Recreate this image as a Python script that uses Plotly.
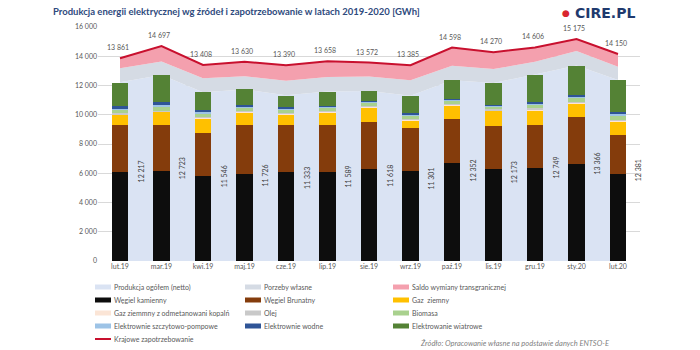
import plotly.graph_objects as go

months = ["lut.19", "mar.19", "kwi.19", "maj.19", "cze.19", "lip.19", "sie.19",
          "wrz.19", "paź.19", "lis.19", "gru.19", "sty.20", "lut.20"]
produkcja = [12217, 12723, 11546, 11726, 11333, 11589, 11618, 11301, 12352, 12173, 12749, 13366, 12381]
potrzeby = [960, 910, 950, 900, 1000, 1000, 1000, 1050, 1000, 950, 880, 1000, 900]
saldo = [684, 1064, 912, 1004, 1057, 1069, 954, 1034, 1246, 1147, 977, 809, 869]
zapotrzebowanie = [13861, 14697, 13408, 13630, 13390, 13658, 13572, 13385, 14598, 14270, 14606, 15175, 14150]

wegiel_kamienny = [6100, 6170, 5810, 5950, 6060, 6060, 6270, 6150, 6680, 6270, 6360, 6630, 5930]
wegiel_brunatny = [3200, 3130, 2920, 3350, 3240, 3240, 3260, 2920, 3010, 2980, 2940, 3190, 2700]
gaz_ziemny = [700, 900, 1030, 870, 750, 870, 950, 570, 930, 1010, 1020, 960, 900]
gaz_odmet = [50, 40, 50, 50, 50, 50, 50, 50, 50, 50, 60, 60, 60]
olej = [50, 40, 50, 50, 50, 50, 50, 50, 50, 50, 60, 60, 60]
biomasa = [250, 300, 250, 220, 220, 220, 250, 220, 250, 220, 280, 300, 280]
pompowe = [70, 80, 50, 80, 70, 50, 50, 50, 50, 50, 50, 80, 100]
wodne = [150, 180, 150, 130, 120, 80, 80, 80, 80, 60, 80, 100, 150]
wiatrowe = [1600, 1900, 1230, 1030, 750, 970, 650, 1200, 1250, 1480, 1900, 1980, 2200]

title = "Produkcja energii elektrycznej wg źródeł i zapotrzebowanie w latach 2019-2020 [GWh]"
source = "Źródło: Opracowanie własne na podstawie danych ENTSO-E"

FONT = "Lato"
TXT = "#595959"

x = list(range(len(months)))

def fmt(v):
    return f"{v:,}".replace(",", " ")

areas = [
    ("Produkcja ogółem (netto)", produkcja, "#dae3f3"),
    ("Porzeby własne", potrzeby, "#d5dbe4"),
    ("Saldo wymiany transgranicznej", saldo, "#f4a0ae"),
]
bars = [
    ("Węgiel kamienny", wegiel_kamienny, "#0d0d0d"),
    ("Węgiel Brunatny", wegiel_brunatny, "#843c0c"),
    ("Gaz  ziemny", gaz_ziemny, "#ffc000"),
    ("Gaz ziemmny z odmetanowani kopalń", gaz_odmet, "#fbe5d6"),
    ("Olej", olej, "#c9c9c9"),
    ("Biomasa", biomasa, "#a9d18e"),
    ("Elektrownie szczytowo-pompowe", pompowe, "#9dc3e6"),
    ("Elektrownie wodne", wodne, "#2f5597"),
    ("Elektrowanie wiatrowe", wiatrowe, "#548235"),
]
line_name = "Krajowe zapotrzebowanie"
line_color = "#c8102e"

fig = go.Figure()
for name, vals, col in areas:
    fig.add_trace(go.Scatter(x=x, y=vals, name=name, mode="lines", stackgroup="a",
                             line=dict(width=0, color=col), fillcolor=col,
                             showlegend=False, hoverinfo="skip"))
fig.add_trace(go.Scatter(x=x, y=zapotrzebowanie, name=line_name, mode="lines",
                         line=dict(color=line_color, width=2),
                         cliponaxis=False, showlegend=False, hoverinfo="skip"))
for name, vals, col in bars:
    fig.add_trace(go.Bar(x=x, y=vals, name=name, marker=dict(color=col, line=dict(width=0)),
                         width=0.4, showlegend=False, hoverinfo="skip",
                         xaxis="x2", yaxis="y2"))

# plot area geometry in pixels
L, R, T, B = 98, 60, 27, 89
W, H = 700, 350
pw, ph = W - L - R, H - T - B

def px(xp):
    return (xp - L) / pw

def py(yp):
    return (H - B - yp) / ph

annotations = []
for i, v in enumerate(produkcja):
    annotations.append(dict(x=i + 0.5, y=v / 2, xref="x", yref="y", text=fmt(v),
                            textangle=-90, showarrow=False,
                            font=dict(size=7, color="#404040", family=FONT)))
for i, v in enumerate(zapotrzebowanie):
    annotations.append(dict(x=i - 0.05, y=v, xref="x", yref="y", text=fmt(v),
                            showarrow=False, yshift=11, yanchor="middle",
                            font=dict(size=7, color=TXT, family=FONT)))

# manual legend (compact rows like the original)
legend_items = [(n, c, "box") for n, _, c in areas]
legend_items += [(n, c, "box") for n, _, c in bars]
legend_items.append((line_name, line_color, "line"))
col_x = [95, 245, 393]
shapes = []
for k, (name, col, kind) in enumerate(legend_items):
    r, c = divmod(k, 3)
    x0 = col_x[c]
    yc = 287 + 13 * r
    hh = 2.5 if kind == "box" else 1
    shapes.append(dict(type="rect", xref="paper", yref="paper",
                       x0=px(x0), x1=px(x0 + 16), y0=py(yc + hh), y1=py(yc - hh),
                       fillcolor=col, line=dict(width=0)))
    annotations.append(dict(x=px(x0 + 17), y=py(yc), xref="paper", yref="paper",
                            text=name, showarrow=False, xanchor="left", yanchor="middle",
                            font=dict(size=7, color=TXT, family=FONT)))

annotations.append(dict(x=px(515), y=py(343), xref="paper", yref="paper", text=f"<i>{source}</i>",
                        showarrow=False, xanchor="center", yanchor="middle",
                        font=dict(size=7.5, color="#7f7f7f", family=FONT)))
# logo
annotations.append(dict(x=px(566), y=py(13), xref="paper", yref="paper", text="●",
                        showarrow=False, xanchor="center", yanchor="middle",
                        font=dict(size=9, color="#d9262e", family="DejaVu Sans")))
annotations.append(dict(x=px(573), y=py(13), xref="paper", yref="paper", text="<b>CIRE.PL</b>",
                        showarrow=False, xanchor="left", yanchor="middle",
                        font=dict(size=14, color="#1f3a6e", family="DejaVu Sans")))

xr = [-0.53, 12.53]
yr = [0, 16000]
fig.update_layout(
    width=W, height=H,
    margin=dict(l=L, r=R, t=T, b=B),
    paper_bgcolor="white", plot_bgcolor="white",
    barmode="stack", bargap=0,
    separators=", ",
    font=dict(family=FONT, size=7, color=TXT),
    title=dict(text=f"<b>{title}</b>", xref="container", yref="container",
               x=53 / W, y=1 - 12 / H, xanchor="left", yanchor="middle",
               font=dict(size=9.5, color="#2e4a7d", family=FONT)),
    xaxis=dict(tickvals=x, ticktext=months, range=xr, showgrid=False,
               zeroline=False, showline=False, tickfont=dict(size=7, color=TXT)),
    yaxis=dict(range=yr, dtick=2000, tickformat=",d", gridcolor="#d9d9d9",
               gridwidth=1, zeroline=False, showline=False, tickfont=dict(size=7, color=TXT)),
    xaxis2=dict(overlaying="x", range=xr, visible=False),
    yaxis2=dict(overlaying="y", range=yr, visible=False),
    showlegend=False,
    annotations=annotations,
    shapes=shapes,
    hovermode=False,
)

fig.write_html("out.html")
